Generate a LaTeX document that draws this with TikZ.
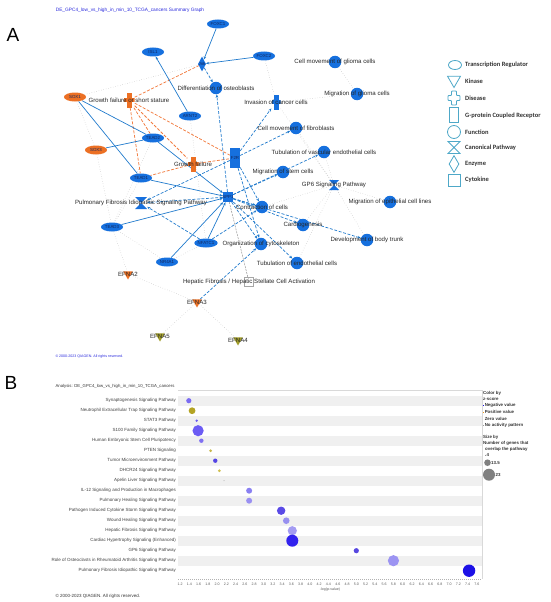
\documentclass[tikz,border=0pt]{standalone}
\usepackage{fontspec}
\setmainfont{Liberation Sans}
\newfontfamily\legendfont{Carlito}
\usetikzlibrary{positioning,shapes.geometric,arrows.meta}

\pgfdeclarelayer{background}
\pgfsetlayers{background,main}

\definecolor{ipablue}{RGB}{22,112,222}
\definecolor{ipaorange}{RGB}{236,112,36}
\definecolor{ipaolive}{RGB}{160,156,40}
\definecolor{edgeblue}{RGB}{32,122,204}
\definecolor{edgeorange}{RGB}{242,124,64}
\definecolor{legendblue}{RGB}{78,168,200}
\definecolor{genetext}{RGB}{18,40,96}
\definecolor{titleblue}{RGB}{40,40,220}
\definecolor{pc1}{HTML}{7B6CF2}
\definecolor{pc2}{HTML}{B4A424}
\definecolor{pc3}{HTML}{6A5CF0}
\definecolor{pc4}{HTML}{6C5CF4}
\definecolor{pc5}{HTML}{8070F2}
\definecolor{pc6}{HTML}{C8B84C}
\definecolor{pc7}{HTML}{5444E4}
\definecolor{pc8}{HTML}{D0C050}
\definecolor{pc9}{HTML}{808080}
\definecolor{pc10}{HTML}{8A80F2}
\definecolor{pc11}{HTML}{9A90F2}
\definecolor{pc12}{HTML}{5A4AE6}
\definecolor{pc13}{HTML}{9890F0}
\definecolor{pc14}{HTML}{A49CF2}
\definecolor{pc15}{HTML}{3222EE}
\definecolor{pc16}{HTML}{5848E0}
\definecolor{pc17}{HTML}{9C94F2}
\definecolor{pc18}{HTML}{1C10E6}

\tikzset{
  gene/.style={ellipse, fill=#1, minimum width=22, minimum height=9, inner sep=0pt,
    font=\fontsize{4.4}{5}\selectfont, text=genetext},
  func/.style={circle, fill=ipablue, minimum size=12.5, inner sep=0pt},
  kinase/.style={regular polygon, regular polygon sides=3, shape border rotate=180,
    fill=#1, minimum size=11, inner sep=0pt},
  enzyme/.style={diamond, fill=ipablue, minimum width=8, minimum height=15, inner sep=0pt},
  receptor/.style={rectangle, fill=ipablue, minimum width=10, minimum height=20, inner sep=0pt},
  cytokine/.style={rectangle, fill=#1, minimum size=10, inner sep=0pt},
  disease/.style={rectangle, minimum width=11, minimum height=15, inner sep=0pt,
    path picture={
      \fill[#1] ([xshift=-2.5pt]path picture bounding box.north) rectangle ([xshift=2.5pt]path picture bounding box.south);
      \fill[#1] ([yshift=2pt]path picture bounding box.west) rectangle ([yshift=-2pt]path picture bounding box.east);}},
  pathway/.style={rectangle, minimum size=#1, inner sep=0pt,
    path picture={
      \fill[ipablue] (path picture bounding box.north west) -- (path picture bounding box.north east)
        -- (path picture bounding box.south west) -- (path picture bounding box.south east) -- cycle;}},
  genelabel/.style={font=\fontsize{4.4}{5}\selectfont, text=genetext},
  solidline/.style={draw=edgeblue, line width=0.7pt},
  solidarrow/.style={solidline, -{Stealth[length=3.2pt,width=2.6pt]}},
  dasharrow/.style={solidarrow, dash pattern=on 3pt off 1.6pt},
  orangedash/.style={draw=edgeorange, line width=0.75pt, dash pattern=on 3pt off 1.6pt},
  graydot/.style={draw=black!28, line width=0.45pt, dotted},
  graydash/.style={draw=black!45, line width=0.45pt, dash pattern=on 2pt off 1pt},
  lgshape/.style={draw=legendblue, line width=0.8pt, fill=white, inner sep=0pt},
  lgtext/.style={anchor=west, font=\legendfont\bfseries\fontsize{6.5}{7}\selectfont, text=black!80, inner sep=0pt},
  rowlabel/.style={anchor=east, font=\fontsize{4.5}{5}\selectfont, text=black!75, inner sep=0pt},
  ticklabel/.style={font=\fontsize{3.6}{4}\selectfont, text=black!65, inner sep=0pt},
  chartkey/.style={anchor=west, font=\bfseries\fontsize{4.4}{5}\selectfont, text=black!80, inner sep=0pt},
}

\begin{document}
\begin{tikzpicture}[x=1pt, y=-1pt,
  every label/.style={font=\fontsize{6.1}{7}\selectfont, text=black!85, inner sep=0pt}]
\useasboundingbox (0,0) rectangle (550,602);

% panel A
\node[font=\fontsize{19}{20}\selectfont] (panelA) at (13,35) {A};
\node[font=\fontsize{4.8}{5}\selectfont, text=titleblue] (titleA) at (130,10) {DE\_GPC4\_low\_vs\_high\_in\_min\_10\_TCGA\_cancers Summary Graph};

\node[gene=ipablue] (foxa) at (218,24) {FOXC1};
\node[gene=ipablue] (foxb) at (264,56) {FOXC2};
\node[gene=ipablue] (isl) at (153,52) {ISL1};
\node[enzyme, label={[genelabel]center:Jnk}] (jnk) at (202,64) {};
\node[func, label=center:Differentiation of osteoblasts] (diffo) at (216,88) {};
\node[gene=ipaorange] (sox1) at (75,97) {SOX1};
\node[disease=ipaorange, label=center:Growth failure or short stature] (gfs) at (129,100) {};
\node[gene=ipablue] (arnt) at (190,116) {ARNT2};
\node[disease=ipablue, minimum width=9, label=center:Invasion of cancer cells] (inv) at (276,102) {};
\node[func, label=center:Cell movement of glioma cells] (cmg) at (335,62) {};
\node[func, label=center:Migration of glioma cells] (mgc) at (357,94) {};
\node[gene=ipablue] (tead2) at (153,138) {TEAD2};
\node[gene=ipaorange] (sox3) at (96,150) {SOX3};
\node[func, label=center:Cell movement of fibroblasts] (cmf) at (296,128) {};
\node[receptor, label={[genelabel]center:F2R}] (gpcr) at (235,158) {};
\node[disease=ipaorange, label=center:Growth failure] (gf) at (193,164) {};
\node[func, label=center:Tubulation of vascular endothelial cells] (tve) at (324,152) {};
\node[gene=ipablue] (tead1) at (141,178) {TEAD1};
\node[func, label=center:Migration of stem cells] (msc) at (283,172) {};
\node[pathway=10, label=center:GP6 Signaling Pathway] (gp6) at (334,185) {};
\node[cytokine=ipablue, label={[genelabel]center:SPP1}] (cyt) at (228,197) {};
\node[pathway=12, label=center:Pulmonary Fibrosis Idiopathic Signaling Pathway] (pfi) at (141,203) {};
\node[func, label=center:Contraction of cells] (con) at (262,207) {};
\node[func, label=center:Migration of epithelial cell lines] (mecl) at (390,202) {};
\node[gene=ipablue] (tead3) at (112,227) {TEAD3};
\node[func, label=center:Cardiogenesis] (card) at (303,225) {};
\node[func, label=center:Development of body trunk] (dbt) at (367,240) {};
\node[gene=ipablue] (nfa) at (206,243) {NFATC1};
\node[func, label=center:Organization of cytoskeleton] (ocs) at (261,244) {};
\node[gene=ipablue] (nfb) at (167,262) {NR4A1};
\node[func, label=center:Tubulation of endothelial cells] (tec) at (297,263) {};
\node[cytokine=white, draw=black!35, line width=0.4pt, minimum size=9, label={center:Hepatic Fibrosis / Hepatic Stellate Cell Activation}] (hep) at (249,282) {};
\node[kinase=ipaorange, label=center:EFNA2] (efna2) at (128,274) {};
\node[kinase=ipaorange, label=center:EFNA3] (efna3) at (197,302) {};
\node[kinase=ipaolive, label=center:EFNA5] (efna5) at (160,336) {};
\node[kinase=ipaolive, label=center:EFNA4] (efna4) at (238,340) {};

\node[anchor=west, font=\fontsize{3.6}{4}\selectfont, text=titleblue] (copyA) at (52,357) {\textcopyright{} 2000-2023 QIAGEN. All rights reserved.};

\begin{pgfonlayer}{background}
% grey links
\draw[graydot] (sox1) -- (jnk);
\draw[graydot] (sox1) -- (sox3);
\draw[graydot] (sox3) -- (tead3);
\draw[graydot] (tead2) -- (tead3);
\draw[graydot] (tead1) -- (tead3);
\draw[graydot] (foxb) -- (inv);
\draw[graydot] (inv) -- (mgc);
\draw[graydot] (cmg) -- (mgc);
\draw[graydot] (inv) -- (gp6);
\draw[graydot] (arnt) -- (nfa);
\foreach \target in {tve,cmf,con,card,dbt,mecl,tec}
  \draw[graydot] (gp6) -- (\target);
\draw[graydot] (tead3) -- (nfb);
\draw[graydot] (nfb) -- (nfa);
\draw[graydot] (tead3) -- (efna2);
\draw[graydot] (efna2) -- (efna3);
\draw[graydot] (efna3) -- (efna5);
\draw[graydot] (efna3) -- (efna4);
\draw[graydash] (cyt) -- (hep);
% orange links
\draw[orangedash] (gfs) -- (jnk);
\draw[orangedash] (gfs) -- (gpcr);
\draw[orangedash] (gfs) -- (tead2);
\draw[orangedash] (gfs) -- (tead1);
\draw[orangedash] (gfs) -- (gf);
\draw[orangedash] (gf) -- (tead1);
\draw[orangedash] (gf) -- (gpcr);
% blue links
\draw[solidarrow] (foxa) -- (jnk);
\draw[solidarrow] (foxb) -- (jnk);
\draw[solidarrow] (arnt) -- (isl);
\draw[solidline] (sox1) -- (tead2);
\draw[solidline] (sox1) -- (tead1);
\draw[solidline] (sox3) -- (tead2);
\foreach \source in {tead2,tead1,tead3,nfa,nfb}
  \draw[solidarrow] (\source) -- (cyt);
\draw[dasharrow] (jnk) -- (diffo);
\draw[dasharrow] (cyt) -- (diffo);
\draw[dasharrow] (gpcr) -- (inv);
\draw[dasharrow] (gpcr) -- (cmf);
\draw[dasharrow] (gpcr) -- (con);
\draw[dasharrow] (gpcr) -- (ocs);
\draw[dasharrow] (gpcr) -- (pfi);
\foreach \target in {tve,msc,con,card,dbt,ocs,tec,pfi}
  \draw[dasharrow] (cyt) -- (\target);
\draw[dasharrow] (nfa) -- (pfi);
\draw[dasharrow] (nfa) -- (con);
\draw[dasharrow] (efna3) -- (ocs);
\end{pgfonlayer}

% legend A
\node[lgshape, ellipse, minimum width=13, minimum height=9] (lgTR) at (455,65) {};
\node[lgtext] (lgTRt) at (465,65) {Transcription Regulator};
\node[lgshape, regular polygon, regular polygon sides=3, shape border rotate=180, minimum size=15] (lgKin) at (454,80) {};
\node[lgtext] (lgKint) at (465,81.5) {Kinase};
\node[minimum width=13, minimum height=14, inner sep=0pt] (lgDis) at (454,98) {};
\draw[draw=legendblue, line width=0.8pt, rounded corners=0.8pt, shift={(lgDis.center)}]
  (-2.5pt,7pt) -- (2.5pt,7pt) -- (2.5pt,2.5pt) -- (6pt,2.5pt) -- (6pt,-2.5pt) -- (2.5pt,-2.5pt)
  -- (2.5pt,-7pt) -- (-2.5pt,-7pt) -- (-2.5pt,-2.5pt) -- (-6pt,-2.5pt) -- (-6pt,2.5pt) -- (-2.5pt,2.5pt) -- cycle;
\node[lgtext] (lgDist) at (465,98.3) {Disease};
\node[lgshape, rectangle, minimum width=9, minimum height=15] (lgGP) at (454,115) {};
\node[lgtext] (lgGPt) at (465,115.3) {G-protein Coupled Receptor};
\node[lgshape, circle, minimum size=13] (lgFn) at (454,132) {};
\node[lgtext] (lgFnt) at (465,132) {Function};
\node[minimum size=12, inner sep=0pt] (lgCP) at (454,147.5) {};
\draw[draw=legendblue, line width=0.8pt, shift={(lgCP.center)}]
  (-6pt,6pt) -- (6pt,6pt) -- (-6pt,-6pt) -- (6pt,-6pt) -- cycle;
\node[lgtext] (lgCPt) at (465,147.3) {Canonical Pathway};
\node[lgshape, diamond, minimum width=10, minimum height=17] (lgEnz) at (454,164) {};
\node[lgtext] (lgEnzt) at (465,164.3) {Enzyme};
\node[lgshape, rectangle, minimum size=12] (lgCyt) at (454,180) {};
\node[lgtext] (lgCytt) at (465,180) {Cytokine};

% panel B
\node[font=\fontsize{19}{20}\selectfont] (panelB) at (11,383) {B};
\node[anchor=west, font=\fontsize{4.3}{5}\selectfont, text=black!80] (analysis) at (52,386) {Analysis: DE\_GPC4\_low\_vs\_high\_in\_min\_10\_TCGA\_cancers};

\draw[black!15, line width=0.4pt] (178,390.5) -- (482,390.5) -- (482,579);
\foreach \pname [count=\i] in {Synaptogenesis Signaling Pathway,
  Neutrophil Extracellular Trap Signaling Pathway, STAT3 Pathway,
  S100 Family Signaling Pathway, Human Embryonic Stem Cell Pluripotency,
  PTEN Signaling, Tumor Microenvironment Pathway, DHCR24 Signaling Pathway,
  Apelin Liver Signaling Pathway, IL-12 Signaling and Production in Macrophages,
  Pulmonary Healing Signaling Pathway, Pathogen Induced Cytokine Storm Signaling Pathway,
  Wound Healing Signaling Pathway, Hepatic Fibrosis Signaling Pathway,
  Cardiac Hypertrophy Signaling (Enhanced), GP6 Signaling Pathway,
  Role of Osteoclasts in Rheumatoid Arthritis Signaling Pathway,
  Pulmonary Fibrosis Idiopathic Signaling Pathway}{
  \pgfmathsetmacro{\rowy}{390.7+10*\i}
  \ifodd\i \fill[black!6] (178,\rowy-5) rectangle (481.5,\rowy+5); \fi
  \node[rowlabel] (row\i) at (176,\rowy) {\pname};
}
\draw[black!30, line width=0.4pt, dash pattern=on 1pt off 1pt] (178,579) -- (482,579);

% bubbles: row / -log(p) / radius / colour
\foreach \i/\v/\r/\c in {1/1.39/2.6/pc1, 2/1.46/3.4/pc2, 3/1.56/1.3/pc3, 4/1.59/5.6/pc4,
  5/1.66/2.2/pc5, 6/1.86/1.5/pc6, 7/1.96/2.2/pc7, 8/2.05/1.5/pc8, 9/2.15/0.4/pc9,
  10/2.69/3.0/pc10, 11/2.69/3.0/pc11, 12/3.38/4.2/pc12, 13/3.49/3.3/pc13,
  14/3.62/4.6/pc14, 15/3.62/6.0/pc15, 16/5.00/2.6/pc16, 17/5.80/5.6/pc17, 18/7.43/6.2/pc18}
  \fill[\c] ({180+(\v-1.2)*46.4},{390.7+10*\i}) circle (\r);

\foreach \tick [count=\k from 0] in {1.2,1.4,1.6,1.8,2.0,2.2,2.4,2.6,2.8,3.0,3.2,3.4,3.6,3.8,4.0,
  4.2,4.4,4.6,4.8,5.0,5.2,5.4,5.6,5.8,6.0,6.2,6.4,6.6,6.8,7.0,7.2,7.4,7.6}
  \node[ticklabel] (tick\k) at ({180+9.28*\k},584) {\tick};
\node[ticklabel] (xlabel) at (330,590) {-log(p-value)};

% legend B
\node[chartkey] (colorby) at (483,393) {Color by};
\node[chartkey] (zscore) at (483,399.3) {z-score};
\fill[pc18] (483,404.9) rectangle +(1.4,1.4);
\node[chartkey] (negval) at (484.6,405.7) {Negative value};
\fill[ipaorange!70!yellow] (483,411.5) rectangle +(1.4,1.4);
\node[chartkey] (posval) at (484.6,412.3) {Positive value};
\node[chartkey] (zeroval) at (484.6,418.7) {Zero value};
\fill[black!40] (483,424.5) rectangle +(1.4,1.4);
\node[chartkey] (noact) at (484.6,425.3) {No activity pattern};
\node[chartkey] (sizeby) at (483,437) {Size by};
\node[chartkey] (ngenes) at (483,443) {Number of genes that};
\node[chartkey] (overlap) at (485,449.3) {overlap the pathway};
\fill[black!50] (485.5,455.3) circle (0.5);
\node[chartkey] (sizefour) at (486.5,455.3) {4};
\fill[black!50] (487.5,462.7) circle (3.3);
\node[chartkey] (sizemid) at (491,462.7) {13.5};
\fill[black!50] (489,474.7) circle (6);
\node[chartkey] (sizebig) at (495.5,474.7) {23};

\node[anchor=west, font=\fontsize{4.5}{5}\selectfont, text=black!80] (copyB) at (52,596.5) {\textcopyright{} 2000-2023 QIAGEN. All rights reserved.};
\end{tikzpicture}
\end{document}
